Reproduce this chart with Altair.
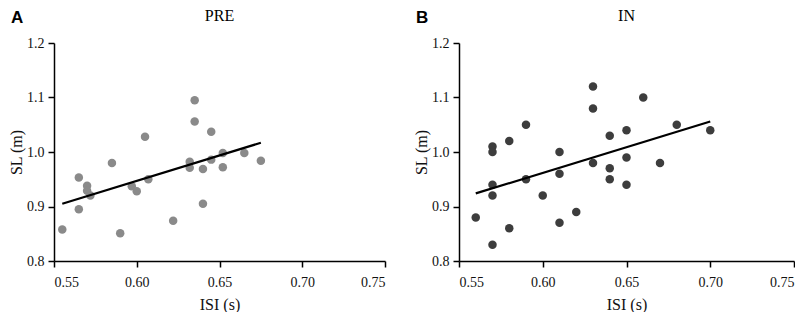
import altair as alt
import pandas as pd

# PRE panel data
pre_isi = [0.555, 0.565, 0.565, 0.570, 0.570, 0.572, 0.585, 0.590, 0.597, 0.600,
           0.605, 0.607, 0.622, 0.632, 0.632, 0.635, 0.635, 0.640, 0.640, 0.645,
           0.645, 0.652, 0.652, 0.665, 0.675]
pre_sl = [0.858, 0.953, 0.895, 0.938, 0.929, 0.920, 0.980, 0.851, 0.937, 0.928,
          1.028, 0.950, 0.874, 0.982, 0.971, 1.095, 1.056, 0.969, 0.905, 0.986,
          1.037, 0.998, 0.972, 0.998, 0.984]
pre_fit_isi = [0.555, 0.675]
pre_fit_sl = [0.905, 1.017]

# IN panel data
in_isi = [0.56, 0.57, 0.57, 0.57, 0.57, 0.57, 0.58, 0.58, 0.59, 0.59,
          0.60, 0.61, 0.61, 0.61, 0.62, 0.63, 0.63, 0.63, 0.64, 0.64,
          0.64, 0.65, 0.65, 0.65, 0.66, 0.67, 0.68, 0.70]
in_sl = [0.88, 1.01, 1.00, 0.94, 0.92, 0.83, 1.02, 0.86, 1.05, 0.95,
         0.92, 1.00, 0.96, 0.87, 0.89, 1.12, 1.08, 0.98, 1.03, 0.97,
         0.95, 1.04, 0.99, 0.94, 1.10, 0.98, 1.05, 1.04]
in_fit_isi = [0.56, 0.70]
in_fit_sl = [0.924, 1.056]

x_ticks = [0.55, 0.60, 0.65, 0.70, 0.75]
y_ticks = [0.8, 0.9, 1.0, 1.1, 1.2]

SERIF = "Liberation Serif"
H = 218


def panel(letter, title, xs, ys, fx, fy, color, w):
    pts = pd.DataFrame({"ISI": xs, "SL": ys})
    fit = pd.DataFrame({"ISI": fx, "SL": fy})
    xenc = alt.X("ISI:Q",
                 scale=alt.Scale(domain=[0.55, 0.75], nice=False, zero=False),
                 axis=alt.Axis(values=x_ticks, format=".2f", title="ISI (s)",
                               labelFont=SERIF, labelFontSize=14,
                               titleFont=SERIF, titleFontSize=16,
                               labelPadding=8, titlePadding=7))
    yenc = alt.Y("SL:Q",
                 scale=alt.Scale(domain=[0.8, 1.2], nice=False, zero=False),
                 axis=alt.Axis(values=y_ticks, format=".1f", title="SL (m)",
                               labelFont=SERIF, labelFontSize=14,
                               titleFont=SERIF, titleFontSize=16,
                               labelPadding=4, titlePadding=2))
    points = alt.Chart(pts).mark_circle(size=72, color=color, opacity=1).encode(
        x=xenc, y=yenc)
    line = alt.Chart(fit).mark_line(color="black", strokeWidth=2.2).encode(
        x="ISI:Q", y="SL:Q")
    lab = alt.Chart(pd.DataFrame({"t": [letter]})).mark_text(
        font="Liberation Sans", fontWeight="bold", fontSize=17, align="left",
        baseline="alphabetic", color="black").encode(
        text="t:N", x=alt.value(-43), y=alt.value(-20))
    ttl = alt.Chart(pd.DataFrame({"t": [title]})).mark_text(
        font=SERIF, fontSize=16, align="center", baseline="alphabetic",
        color="black").encode(
        text="t:N", x=alt.value(w / 2), y=alt.value(-22))
    return alt.layer(points, line, lab, ttl).properties(width=w, height=H)


chart = alt.hconcat(
    panel("A", "PRE", pre_isi, pre_sl, pre_fit_isi, pre_fit_sl, "#8a8a8a", 331),
    panel("B", "IN", in_isi, in_sl, in_fit_isi, in_fit_sl, "#3d3d3d", 335),
    spacing=27,
).properties(padding=0).configure_view(stroke=None).configure_axis(
    grid=False, domainColor="black", domainWidth=1.5, tickColor="black",
    tickWidth=1.5, tickSize=6, labelFont=SERIF, labelFontSize=14,
    labelColor="#111111", titleFont=SERIF, titleFontSize=16,
    titleFontWeight="normal", titleColor="#111111")

chart.save("out.html", embed_options={"renderer": "svg", "actions": False})
